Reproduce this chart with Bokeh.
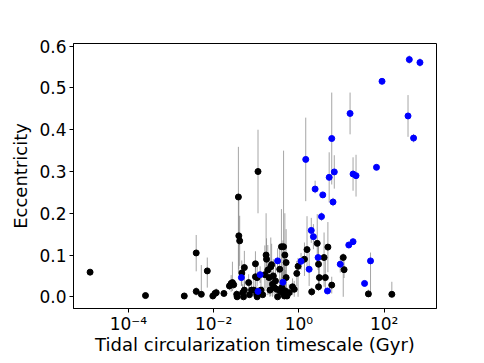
import numpy as np
from bokeh.plotting import figure
from bokeh.models import Range1d, FixedTicker, PrintfTickFormatter, CustomJSTickFormatter, ColumnDataSource
from bokeh.embed import file_html
from bokeh.resources import INLINE

# ---- data (log10 of tidal circularization timescale in Gyr, eccentricity, error below, error above) ----
black_log_tau = [-4.90, -3.60, -2.69, -2.41, -2.41, -2.29, -2.15, -2.02, -1.97, -1.94,
                 -1.76, -1.63, -1.59, -1.56, -1.53, -1.46, -1.45, -1.42, -1.41, -1.39,
                 -1.34, -1.28, -1.32, -1.30, -1.28, -1.18, -1.16, -1.11, -1.06, -1.02,
                 -1.02, -0.99, -0.98, -0.96, -0.98, -0.89, -0.85, -0.80, -0.77, -0.76,
                 -0.73, -0.70, -0.68, -0.66, -0.64, -0.62, -0.60, -0.58, -0.55, -0.52,
                 -0.50, -0.45, -0.44, -0.41, -0.40, -0.38, -0.36, -0.34, -0.33, -0.32,
                 -0.30, -0.30, -0.28, -0.23, -0.15, -0.11, -0.05, -0.02, 0.13, 0.19,
                 0.30, 0.43, 0.46, 0.48, 0.46, 0.59, 0.62, 0.68, 0.77, 1.04,
                 1.06, 1.63, 2.18]
black_ecc = [0.059, 0.003, 0.002, 0.105, 0.013, 0.006, 0.062, 0.002, 0.008, 0.010,
             0.008, 0.026, 0.032, 0.034, 0.029, 0.006, 0.000, 0.239, 0.146, 0.134,
             0.057, 0.070, 0.010, 0.000, 0.016, 0.034, 0.005, 0.016, 0.016, 0.079,
             0.048, 0.005, 0.000, 0.300, 0.046, 0.016, 0.005, 0.053, 0.100, 0.090,
             0.064, 0.046, 0.016, 0.072, 0.077, 0.030, 0.050, 0.022, 0.038, 0.018,
             0.000, 0.066, 0.014, 0.120, 0.022, 0.010, 0.120, 0.002, 0.100, 0.014,
             0.082, 0.046, 0.002, 0.010, 0.024, 0.018, 0.056, 0.073, 0.090, 0.113,
             0.012, 0.128, 0.078, 0.046, 0.024, 0.094, 0.046, 0.119, 0.028, 0.094,
             0.065, 0.007, 0.006]
black_err_lo = [0.0, 0.0, 0.0, 0.044, 0.01, 0.006, 0.04, 0.0, 0.0, 0.0,
                0.0, 0.01, 0.02, 0.02, 0.01, 0.006, 0.0, 0.18, 0.08, 0.06,
                0.03, 0.05, 0.01, 0.0, 0.01, 0.02, 0.005, 0.01, 0.01, 0.04,
                0.03, 0.005, 0.0, 0.10, 0.02, 0.016, 0.005, 0.04, 0.08, 0.05,
                0.06, 0.04, 0.016, 0.07, 0.06, 0.03, 0.04, 0.02, 0.03, 0.018,
                0.0, 0.05, 0.014, 0.12, 0.022, 0.01, 0.12, 0.002, 0.10, 0.014,
                0.06, 0.04, 0.002, 0.01, 0.02, 0.018, 0.03, 0.073, 0.04, 0.05,
                0.01, 0.05, 0.06, 0.03, 0.01, 0.07, 0.03, 0.06, 0.02, 0.094,
                0.02, 0.007, 0.006]
black_err_hi = [0.0, 0.0, 0.0, 0.043, 0.01, 0.07, 0.032, 0.0, 0.0, 0.01,
                0.0, 0.01, 0.02, 0.05, 0.01, 0.01, 0.01, 0.12, 0.10, 0.06,
                0.03, 0.04, 0.02, 0.02, 0.02, 0.02, 0.02, 0.02, 0.03, 0.03,
                0.03, 0.02, 0.01, 0.10, 0.03, 0.03, 0.02, 0.07, 0.10, 0.05,
                0.06, 0.05, 0.03, 0.07, 0.05, 0.03, 0.04, 0.03, 0.04, 0.02,
                0.02, 0.05, 0.03, 0.09, 0.05, 0.05, 0.23, 0.10, 0.10, 0.05,
                0.08, 0.04, 0.02, 0.02, 0.02, 0.02, 0.03, 0.02, 0.04, 0.08,
                0.01, 0.07, 0.05, 0.04, 0.02, 0.06, 0.04, 0.06, 0.02, 0.01,
                0.02, 0.01, 0.03]

blue_log_tau = [-1.35, -0.91, -0.96, -0.50, -0.375, 0.05, 0.16, 0.24, 0.29, 0.34,
                0.38, 0.45, 0.53, 0.56, 0.67, 0.71, 0.77, 0.80, 0.83, 0.97,
                1.17, 1.20, 1.27, 1.27, 1.34, 1.54, 1.68, 1.82, 1.95, 2.56,
                2.59, 2.69, 2.84]
blue_ecc = [0.046, 0.053, 0.013, 0.086, 0.035, 0.085, 0.329, 0.066, 0.159, 0.144,
            0.258, 0.094, 0.192, 0.244, 0.014, 0.286, 0.379, 0.227, 0.299, 0.078,
            0.124, 0.439, 0.132, 0.294, 0.290, 0.032, 0.086, 0.310, 0.516, 0.433,
            0.568, 0.380, 0.561]
blue_err_lo = [0.02, 0.02, 0.01, 0.03, 0.03, 0.02, 0.10, 0.04, 0.03, 0.03,
               0.01, 0.03, 0.01, 0.0, 0.0, 0.06, 0.11, 0.01, 0.04, 0.02,
               0.005, 0.05, 0.005, 0.04, 0.05, 0.0, 0.086, 0.0, 0.0, 0.05,
               0.01, 0.01, 0.01]
blue_err_hi = [0.02, 0.02, 0.01, 0.03, 0.10, 0.02, 0.10, 0.04, 0.03, 0.03,
               0.02, 0.03, 0.01, 0.0, 0.0, 0.06, 0.11, 0.01, 0.04, 0.02,
               0.005, 0.05, 0.005, 0.04, 0.05, 0.0, 0.02, 0.0, 0.0, 0.05,
               0.01, 0.01, 0.01]

x_ticks = [1e-4, 1e-2, 1e0, 1e2]
y_ticks = [0.0, 0.1, 0.2, 0.3, 0.4, 0.5, 0.6]

FONT = "DejaVu Sans"


def make_source(log_tau, ecc, lo, hi):
    tau = 10 ** np.asarray(log_tau)
    e = np.asarray(ecc)
    return ColumnDataSource(dict(x=tau, y=e,
                                 y0=e - np.asarray(lo), y1=e + np.asarray(hi)))


src_black = make_source(black_log_tau, black_ecc, black_err_lo, black_err_hi)
src_blue = make_source(blue_log_tau, blue_ecc, blue_err_lo, blue_err_hi)

p = figure(width=476, height=363, x_axis_type="log",
           x_range=Range1d(10 ** -5.289, 10 ** 3.228),
           y_range=Range1d(-0.028, 0.6065),
           output_backend="svg", toolbar_location=None,
           min_border_left=73, min_border_right=40,
           min_border_top=43, min_border_bottom=55)

p.grid.visible = False
p.outline_line_color = "black"
p.outline_line_width = 1
p.background_fill_color = "white"
p.border_fill_color = "white"

for src in (src_black, src_blue):
    p.segment(x0="x", y0="y0", x1="x", y1="y1", source=src,
              line_color="gray", line_alpha=0.7, line_width=1)

p.scatter(x="x", y="y", source=src_black, size=6, color="black")
p.scatter(x="x", y="y", source=src_blue, size=6, color="blue")

xa = p.xaxis[0]
xa.ticker = FixedTicker(ticks=x_ticks)
xa.formatter = CustomJSTickFormatter(code="""
const e = Math.round(Math.log10(tick));
const sup = {"-": "\u207b", "0": "\u2070", "1": "\u00b9", "2": "\u00b2", "3": "\u00b3",
             "4": "\u2074", "5": "\u2075", "6": "\u2076", "7": "\u2077", "8": "\u2078", "9": "\u2079"};
return "10" + String(e).split("").map(c => sup[c]).join("");
""")
xa.axis_label = "Tidal circularization timescale (Gyr)"

ya = p.yaxis[0]
ya.ticker = FixedTicker(ticks=y_ticks)
ya.formatter = PrintfTickFormatter(format="%.1f")
ya.axis_label = "Eccentricity"

for ax in (xa, ya):
    ax.major_tick_in = 0
    ax.major_tick_out = 4
    ax.minor_tick_line_color = None
    ax.axis_line_color = "black"
    ax.major_tick_line_color = "black"
    ax.major_label_text_font = FONT
    ax.major_label_text_font_size = "17px"
    ax.major_label_text_color = "black"
    ax.axis_label_text_font = FONT
    ax.axis_label_text_font_size = "18px"
    ax.axis_label_text_font_style = "normal"
    ax.axis_label_text_color = "black"

ya.major_label_standoff = 3
ya.axis_label_standoff = 5
xa.major_label_standoff = 1
xa.axis_label_standoff = -3

open("out.html", "w").write(file_html(p, INLINE))
